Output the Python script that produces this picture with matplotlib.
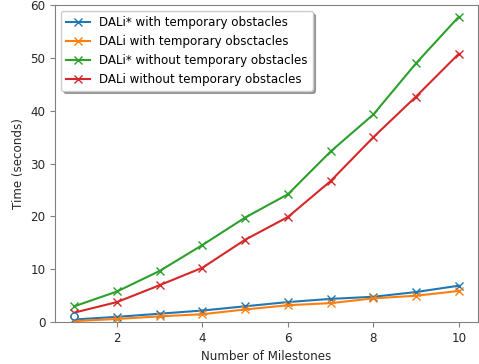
import matplotlib
matplotlib.use("Agg")
import matplotlib.pyplot as plt

milestones = [1, 2, 3, 4, 5, 6, 7, 8, 9, 10]
star_with = [0.5, 1.0, 1.6, 2.2, 3.0, 3.8, 4.4, 4.8, 5.7, 6.9]
dali_with = [0.2, 0.6, 1.1, 1.5, 2.4, 3.2, 3.6, 4.5, 5.0, 5.9]
star_without = [3.0, 5.8, 9.7, 14.6, 19.8, 24.2, 32.3, 39.3, 49.0, 57.8]
dali_without = [1.8, 3.8, 7.0, 10.3, 15.6, 19.9, 26.7, 35.0, 42.7, 50.8]
# stray open marker near the first milestone
extra_x = [1]
extra_y = [1.1]

plt.rcParams['font.size'] = 8.6

fig, ax = plt.subplots(figsize=(4.79, 3.64), dpi=100)
ax.plot(milestones, star_with, marker='x', label="DALi* with temporary obstacles")
ax.plot(milestones, dali_with, marker='x', label="DALi with temporary obsctacles")
ax.plot(milestones, star_without, marker='x', label="DALi* without temporary obstacles")
ax.plot(milestones, dali_without, marker='x', label="DALi without temporary obstacles")
ax.plot(extra_x, extra_y, marker='o', ls='none', mfc='white', mec='#1f77b4', ms=5)

ax.set_ylim(0, 60)
ax.set_xlabel("Number of Milestones", color='#262626')
ax.set_ylabel("Time (seconds)", color='#262626')
ax.tick_params(colors='#262626', labelcolor='#262626')
for s in ax.spines.values():
    s.set_color('#808080')
ax.tick_params(color='#808080')
ax.legend(loc='upper left', shadow=True)

fig.subplots_adjust(left=0.115, right=0.998, top=0.986, bottom=0.115)
fig.savefig("out.png", dpi=100)
